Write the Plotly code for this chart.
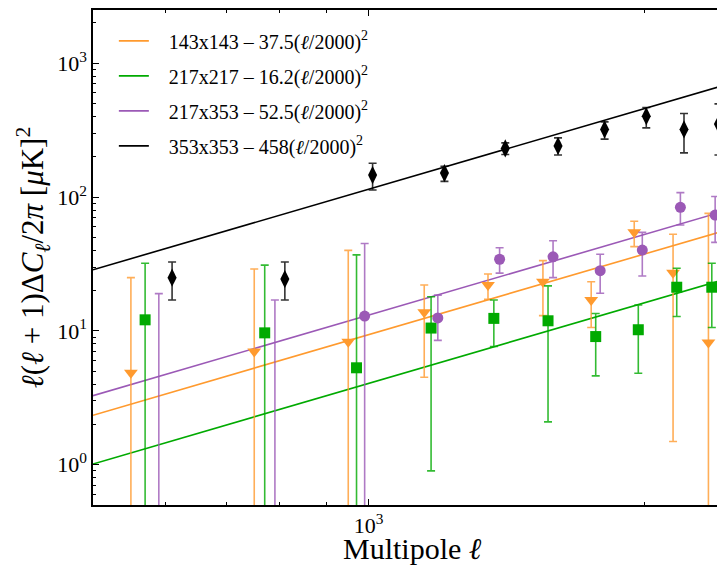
import plotly.graph_objects as go
import numpy as np

# multipole bins per spectrum
ell_143 = [550, 750, 950, 1150, 1350, 1550, 1750, 1950, 2150, 2350]
ell_217 = [570, 770, 970, 1170, 1370, 1570, 1770, 1970, 2170, 2370]
ell_217x353 = [590, 790, 990, 1190, 1390, 1590, 1790, 1990, 2190, 2390]
ell_353 = [610, 810, 1010, 1210, 1410, 1610, 1810, 2010, 2210, 2410]

val_143 = [4.86, 7.0, 8.3, 13.8, 22.0, 23.3, 17.0, 54.5, 27.2, 8.18]
hi_143 = [25, 29, 40, 22, 26.6, 33.5, 23.3, 65.9, 52.7, 75.5]
lo_143 = [0.1, 0.1, 0.1, 4.5, 17.2, 13.0, 10.6, 42.6, 1.49, 0.1]

val_217 = [12.1, 9.67, 5.3, 10.5, 12.4, 11.9, 9.07, 10.2, 21.2, 21.2]
hi_217 = [32, 31, 37, 18, 17.0, 21.7, 13.5, 15.6, 29.4, 32.0]
lo_217 = [0.1, 0.1, 0.1, 0.9, 7.64, 2.09, 4.61, 4.83, 12.8, 10.6]

val_217x353 = [0.2, 0.2, 12.9, 12.5, 34.3, 35.8, 28.2, 40.2, 83.8, 73.4]
hi_217x353 = [19, 17, 45, 18.5, 41.8, 47.2, 37.4, 54.5, 108, 101]
lo_217x353 = [0.1, 0.1, 0.1, 8.5, 27.0, 25.0, 19.1, 25.7, 61.8, 45.9]

val_353 = [25, 24.4, 146, 151, 231, 241, 320, 402, 320, 351]
hi_353 = [32.7, 32.7, 179, 170, 254, 277, 365, 467, 421, 497]
lo_353 = [17.0, 17.0, 113, 131, 208, 206, 271, 329, 214, 206]

# fitted dust amplitudes at ell=2000
amp = {"143": 37.5, "217": 16.2, "217x353": 52.5, "353": 458}
labels = {
    "143": "143x143 \u2013 37.5(<i>\u2113</i>/2000)<sup>2</sup>",
    "217": "217x217 \u2013 16.2(<i>\u2113</i>/2000)<sup>2</sup>",
    "217x353": "217x353 \u2013 52.5(<i>\u2113</i>/2000)<sup>2</sup>",
    "353": "353x353 \u2013 458(<i>\u2113</i>/2000)<sup>2</sup>",
}
ell_line = [500, 2500]

C_OR = "#ff9a2e"
C_GR = "#00aa00"
C_PU = "#9b59b6"
C_BK = "#000000"

fig = go.Figure()

def add_line(key, color, grp):
    ys = [amp[key] * (l / 2000.0) ** 2 for l in ell_line]
    fig.add_trace(go.Scatter(x=ell_line, y=ys, mode="lines", legendgroup=grp,
                             line=dict(color=color, width=1.6),
                             name="\u00a0\u00a0\u00a0" + labels[key], showlegend=True))

def add_pts(ell, val, hi, lo, color, ecolor, symbol, size):
    fig.add_trace(go.Scatter(
        x=ell, y=val, mode="markers", showlegend=False,
        marker=dict(color=color, symbol=symbol, size=size, line=dict(width=0)),
        error_y=dict(type="data", symmetric=False,
                     array=[h - v for h, v in zip(hi, val)],
                     arrayminus=[v - l for v, l in zip(val, lo)],
                     color=ecolor, thickness=1.6, width=4)))

add_line("143", C_OR, "g0")
add_line("217", C_GR, "g1")
add_line("217x353", C_PU, "g2")
add_line("353", C_BK, "g3")

add_pts(ell_143, val_143, hi_143, lo_143, C_OR, "rgba(255,154,46,0.8)", "triangle-down", 12)
add_pts(ell_217, val_217, hi_217, lo_217, C_GR, "rgba(0,170,0,0.8)", "square", 11)
add_pts(ell_217x353, val_217x353, hi_217x353, lo_217x353, C_PU, "rgba(155,89,182,0.8)", "circle", 11)
add_pts(ell_353, val_353, hi_353, lo_353, C_BK, "rgba(0,0,0,0.8)", "diamond-tall", 13)

FONT = "Liberation Serif, Times New Roman, serif"

fig.update_layout(
    width=717, height=557,
    margin=dict(l=85, r=0, t=2, b=60),
    paper_bgcolor="white", plot_bgcolor="white",
    font=dict(family=FONT, color="black", size=22),
    showlegend=True,
    legend=dict(x=0.033, y=0.977, xanchor="left", yanchor="top",
                bgcolor="rgba(0,0,0,0)", font=dict(size=20, family=FONT),
                itemwidth=30, tracegroupgap=6),
    xaxis=dict(type="log", range=[np.log10(500), np.log10(2450)],
               showgrid=False, zeroline=False,
               showline=True, linecolor="black", linewidth=1.5, mirror="ticks",
               ticks="inside", ticklen=6, tickwidth=1, tickcolor="black",
               tickvals=[1000], ticktext=["10<sup>3</sup>"],
               tickfont=dict(size=22),
               minor=dict(ticks="inside", ticklen=3, tickcolor="black",
                          tickvals=[500, 600, 700, 800, 900, 2000], showgrid=False)),
    yaxis=dict(type="log", range=[np.log10(0.5), np.log10(2500)],
               showgrid=False, zeroline=False,
               showline=True, linecolor="black", linewidth=1.5, mirror=False,
               ticks="inside", ticklen=6, tickwidth=1, tickcolor="black",
               tickvals=[1, 10, 100, 1000],
               ticktext=["10<sup>0</sup>", "10<sup>1</sup>", "10<sup>2</sup>", "10<sup>3</sup>"],
               tickfont=dict(size=22),
               minor=dict(ticks="inside", ticklen=3, tickcolor="black",
                          tickvals=[m * 10 ** k for k in range(-1, 4) for m in range(2, 10)],
                          showgrid=False),
               title=dict(text="<i>\u2113</i>(<i>\u2113</i> + 1)\u0394<i>C</i><sub><i>\u2113</i></sub>/2<i>\u03c0</i> [<i>\u03bc</i>K]<sup>2</sup>",
                          font=dict(size=31), standoff=4)),
    annotations=[dict(text="Multipole <i>\u2113</i>", xref="paper", yref="paper",
                      x=0.506, y=-0.087, xanchor="center", yanchor="middle",
                      showarrow=False, font=dict(size=30, family=FONT))],
)

fig.write_html("out.html")
